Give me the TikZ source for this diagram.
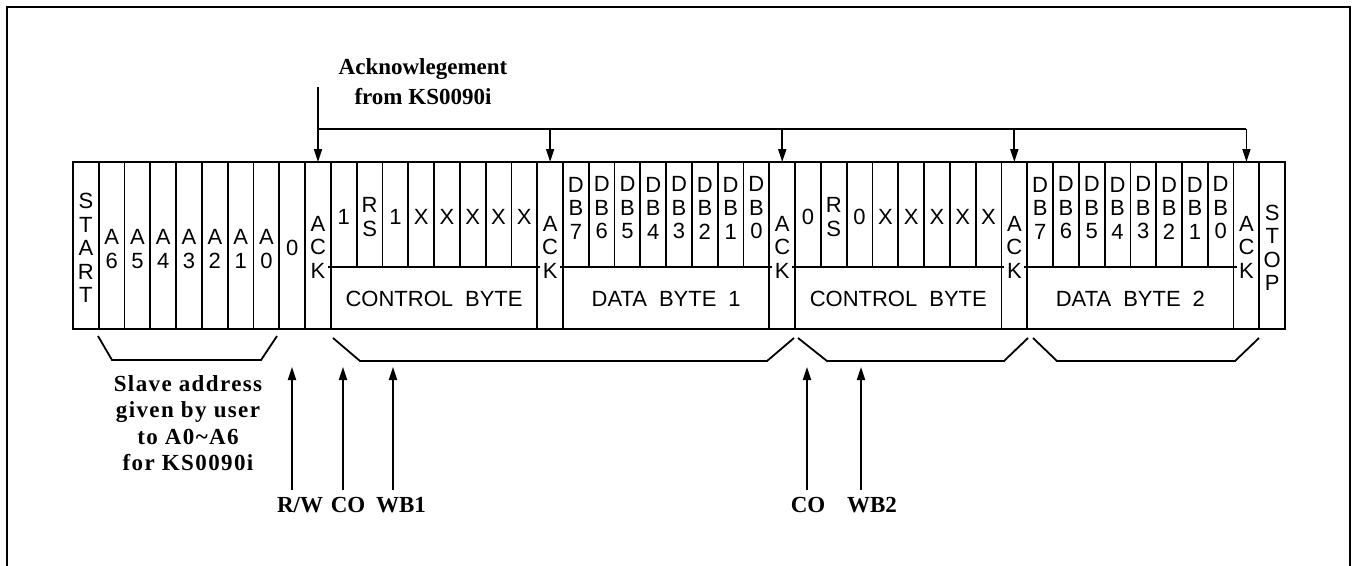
\documentclass[tikz,border=0pt]{standalone}
\usepackage{fontspec}
\setmainfont{Liberation Sans}
\newfontfamily\annfont{Liberation Serif}
\newfontfamily\slavefont[LetterSpace=6]{Liberation Serif}
\usetikzlibrary{arrows.meta}
\begin{document}
\begin{tikzpicture}[x=1pt,y=-1pt,
  frame/.style={line width=1.8pt},
  lbl/.style={inner sep=0pt, align=center, font=\fontsize{22}{23.5}\selectfont},
  ann/.style={inner sep=0pt, align=center, font=\annfont\bfseries\fontsize{23}{30}\selectfont},
  slavetxt/.style={inner sep=0pt, align=center, font=\slavefont\bfseries\fontsize{23}{26.5}\selectfont},
  arr/.style={line width=1.8pt, -{Triangle[length=13pt,width=8pt]}},
  busline/.style={line width=1.8pt},
  brace/.style={line width=1.8pt, line join=miter}]
\def\W{25.79}
\useasboundingbox (0,0) rectangle (1352,565);
% outer border
\draw[line width=1.8pt] (7,575) -- (7,7) -- (1350,7) -- (1350,575);
% frame
\draw[frame] (73,162) rectangle (1285,329);
\foreach \i in {1,2,3,4,5,6,7,8,9,10,18,19,27,28,36,37,45,46}
  \draw[frame] ({73+\i*\W},162) -- ({73+\i*\W},329);
\foreach \i in {11,12,13,14,15,16,17,20,21,22,23,24,25,26,29,30,31,32,33,34,35,38,39,40,41,42,43,44}
  \draw[frame] ({73+\i*\W},162) -- ({73+\i*\W},267);
\foreach \a/\b in {10/18,19/27,28/36,37/45}
  \draw[frame] ({73+\a*\W-3},267) -- ({73+\b*\W+3},267);
% full-height cells
\node[lbl] (start) at ({73+0.5*\W},248) {S\\T\\A\\R\\T};
\foreach \i/\d in {1/6,2/5,3/4,4/3,5/2,6/1,7/0}
  \node[lbl] (a\d) at ({73+(\i+0.5)*\W},249) {A\\\d};
\node[lbl] (rwbit) at ({73+8.5*\W},248) {0};
\foreach \i/\k in {9/1,18/2,27/3,36/4,45/5}
  \node[lbl] (ack\k) at ({73+(\i+0.5)*\W},247) {A\\C\\K};
\node[lbl] (stop) at ({73+46.5*\W},248) {S\\T\\O\\P};
% control bits
\foreach \i/\t/\n in {10/1/a,11/{R\\S}/b,12/1/c,13/X/d,14/X/e,15/X/f,16/X/g,17/X/h}
  \node[lbl] (cba\n) at ({73+(\i+0.5)*\W},217) {\t};
\foreach \i/\t/\n in {28/0/a,29/{R\\S}/b,30/0/c,31/X/d,32/X/e,33/X/f,34/X/g,35/X/h}
  \node[lbl] (cbb\n) at ({73+(\i+0.5)*\W},217) {\t};
% data bits
\foreach \d in {0,...,7}{
  \node[lbl] (dba\d) at ({73+(26-\d+0.5)*\W},208) {D\\B\\\d};
  \node[lbl] (dbb\d) at ({73+(44-\d+0.5)*\W},208) {D\\B\\\d};
}
% byte labels
\node[lbl] (cb1) at ({73+14*\W},299) {CONTROL\hspace{12pt}BYTE};
\node[lbl] (db1) at ({73+23*\W},299) {DATA\hspace{12pt}BYTE\hspace{12pt}1};
\node[lbl] (cb2) at ({73+32*\W},299) {CONTROL\hspace{12pt}BYTE};
\node[lbl] (db2) at ({73+41*\W},299) {DATA\hspace{12pt}BYTE\hspace{12pt}2};
% acknowledgement
\node[ann] (acktxt) at (423,82) {Acknowlegement\\from KS0090i};
\coordinate (ackstart) at ({73+9.5*\W},87);
\foreach \i/\k in {9/1,18/2,27/3,36/4,45/5}{
  \coordinate (bus\k) at ({73+(\i+0.5)*\W},129);
  \coordinate (top\k) at ({73+(\i+0.5)*\W},162);
}
\draw[busline] (bus1) -- (bus5);
\draw[arr] (ackstart) -- (top1);
\foreach \k in {2,3,4,5}
  \draw[arr] (bus\k) -- (top\k);
% braces
\draw[brace] (98,336) -- (112,360) -- (261,360) -- (277,336);
\draw[brace] (333,338) -- (360,361) -- (767,361) -- (794,338);
\draw[brace] (798,338) -- (827,361) -- (1004,361) -- (1028,338);
\draw[brace] (1033,338) -- (1057,361) -- (1235,361) -- (1259,338);
% slave address text
\node[slavetxt] (slave) at (188,423) {Slave address\\given by user\\to A0\char`\~A6\\for KS0090i};
% up arrows
\foreach \n/\x in {rw/292,coa/343,wba/393,cob/807,wbb/861}{
  \coordinate (\n bot) at (\x,490);
  \coordinate (\n tip) at (\x,367);
  \draw[arr] (\n bot) -- (\n tip);
}
\node[ann] (rwlab) at (300,505) {R/W};
\node[ann] (coalab) at (348,505) {CO};
\node[ann] (wbalab) at (401,505) {WB1};
\node[ann] (coblab) at (808,505) {CO};
\node[ann] (wbblab) at (872,505) {WB2};
\end{tikzpicture}
\end{document}
